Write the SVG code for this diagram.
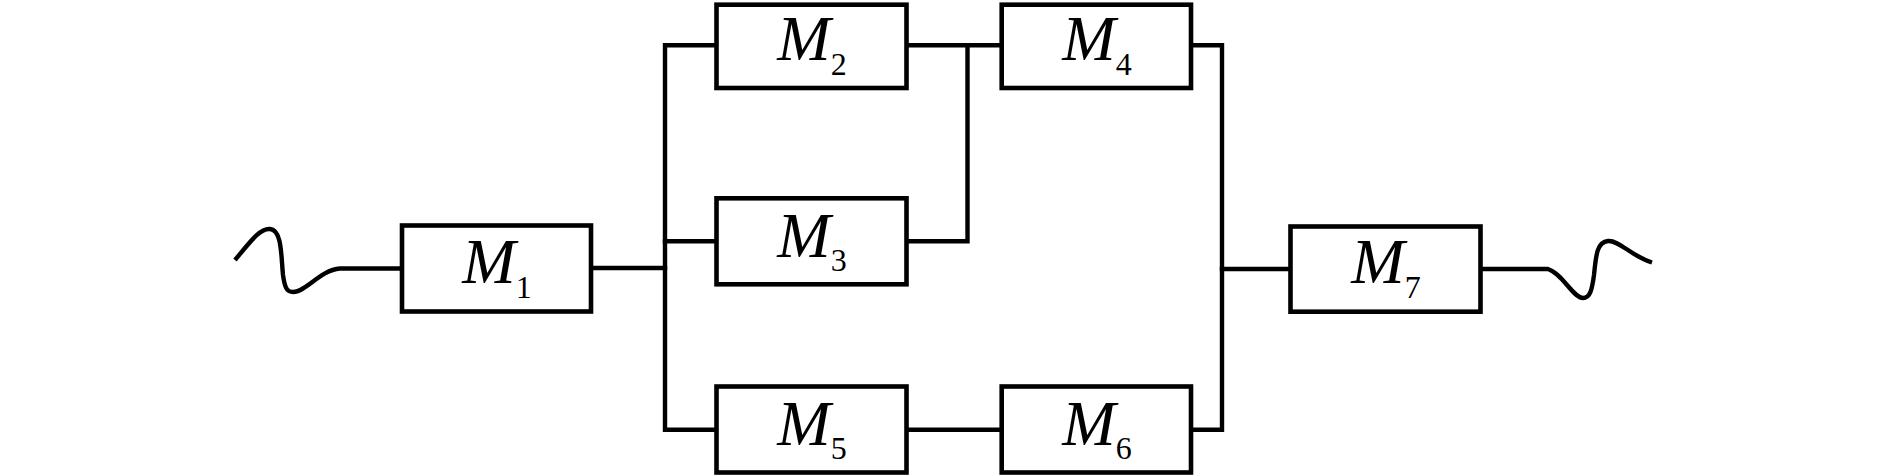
<svg xmlns="http://www.w3.org/2000/svg" width="1889" height="475" viewBox="0 0 1889 475">
<style>
.box{fill:#fff;stroke:#000;stroke-width:4.6}
.ln{fill:none;stroke:#000;stroke-width:4.4;stroke-linejoin:miter;stroke-linecap:square}
.wv{fill:none;stroke:#000;stroke-width:4.4;stroke-linejoin:round;stroke-linecap:butt}
.lbl{font-family:"Liberation Serif","Times New Roman",serif;font-size:64px;fill:#000;text-anchor:middle}
.it{font-style:italic}
.sub{font-size:32px;font-style:normal}
</style>
<rect width="1889" height="475" fill="#fff"/>
<g id="connectors">
<path class="wv" d="M235,260 C250,242 260,228 270,229 C282,230 281,255 283,275 C285,290 288,292 293,292 C306,292 320,270 340,268.5 L402,268.5"/>
<path class="ln" d="M591,268 H665"/>
<path class="ln" d="M716.5,45.3 H665 V429.7 H716.5"/>
<path class="ln" d="M665,241.3 H716.5"/>
<path class="ln" d="M906.5,45.3 H1001.7"/>
<path class="ln" d="M906.5,241.3 H967.5 V45.3"/>
<path class="ln" d="M906.5,429.7 H1001.7"/>
<path class="ln" d="M1191,45.3 H1222 V429.7 H1191"/>
<path class="ln" d="M1222,269 H1290.5"/>
<path class="wv" d="M1480.5,269 L1548,269 C1563,274 1573,298 1583,298 C1590,298 1592,290 1594,275 C1596,255 1597,242 1608,241 C1619,240 1631,256 1652,262.5"/>
</g>
<g id="M1"><rect class="box" x="402" y="225.5" width="189" height="86"/><text class="lbl" x="497" y="283.3"><tspan class="it">M</tspan><tspan class="sub" dy="14.5">1</tspan></text></g>
<g id="M2"><rect class="box" x="716.5" y="4.7" width="190" height="83.3"/><text class="lbl" x="812" y="60"><tspan class="it">M</tspan><tspan class="sub" dy="14.5">2</tspan></text></g>
<g id="M3"><rect class="box" x="716.5" y="198.3" width="190" height="86"/><text class="lbl" x="812" y="256.5"><tspan class="it">M</tspan><tspan class="sub" dy="14.5">3</tspan></text></g>
<g id="M4"><rect class="box" x="1001.7" y="4.7" width="189.3" height="83.3"/><text class="lbl" x="1097" y="60"><tspan class="it">M</tspan><tspan class="sub" dy="14.5">4</tspan></text></g>
<g id="M5"><rect class="box" x="716.5" y="386.5" width="190" height="86"/><text class="lbl" x="812" y="444.5"><tspan class="it">M</tspan><tspan class="sub" dy="14.5">5</tspan></text></g>
<g id="M6"><rect class="box" x="1001.7" y="386.5" width="189.3" height="86"/><text class="lbl" x="1097" y="444.5"><tspan class="it">M</tspan><tspan class="sub" dy="14.5">6</tspan></text></g>
<g id="M7"><rect class="box" x="1290.5" y="226.5" width="190" height="85.2"/><text class="lbl" x="1386" y="283.3"><tspan class="it">M</tspan><tspan class="sub" dy="14.5">7</tspan></text></g>
</svg>
